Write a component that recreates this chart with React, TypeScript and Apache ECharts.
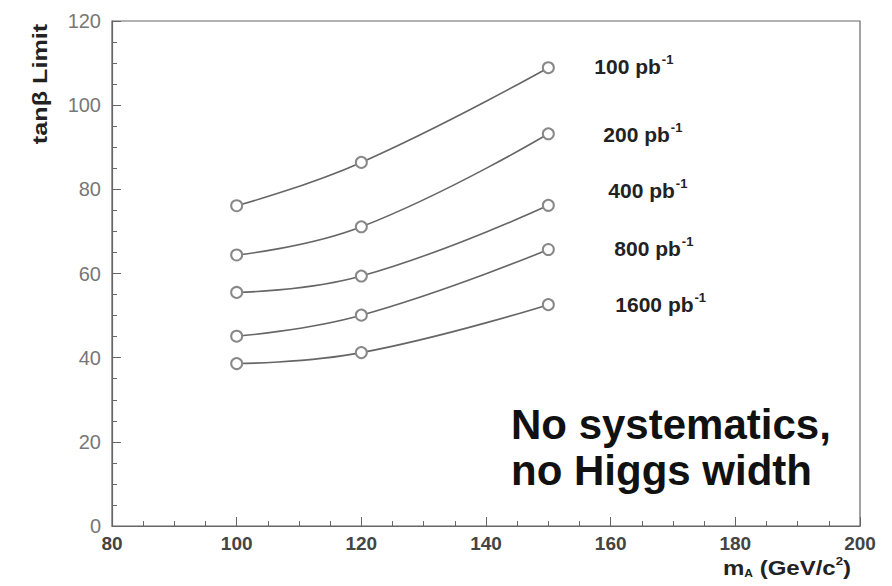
import React, { useEffect, useRef } from "react";
import * as echarts from "echarts";

const massValues = [100, 120, 150];
const lumiLabels = ["100", "200", "400", "800", "1600"];
const limit100 = [76.1, 86.4, 108.9];
const limit200 = [64.4, 71.1, 93.2];
const limit400 = [55.5, 59.4, 76.2];
const limit800 = [45.1, 50.1, 65.7];
const limit1600 = [38.6, 41.2, 52.6];
const seriesValues = [limit100, limit200, limit400, limit800, limit1600];
const labelDistance = [46, 55, 60, 66, 67];
const labelShiftY = [-1, 1, -15, -1, 0];

const FONT = "Liberation Sans, Arial, sans-serif";

export default function App() {
  const ref = useRef<HTMLDivElement>(null);
  useEffect(() => {
    if (!ref.current) return;
    const chart = echarts.init(ref.current, null, { renderer: "svg" });
    const series = seriesValues.map((vals, i) => ({
      type: "line",
      data: vals.map((v, j) => [massValues[j], v]),
      smooth: 0.45,
      symbol: "emptyCircle",
      symbolSize: 11,
      showAllSymbol: true,
      lineStyle: { color: "#666", width: 1.6 },
      itemStyle: { color: "#888", borderColor: "#888", borderWidth: 1.5 },
      endLabel: {
        show: true,
        distance: labelDistance[i],
        offset: [0, labelShiftY[i]],
        formatter: () => `{a|${lumiLabels[i]} pb}{s|-1}`,
        rich: {
          a: { fontSize: 21, fontWeight: "bold", color: "#222", fontFamily: FONT },
          s: { fontSize: 13, fontWeight: "bold", color: "#222", fontFamily: FONT, padding: [0, 0, 14, 1] },
        },
      },
      z: 3,
    }));
    chart.setOption({
      animation: false,
      backgroundColor: "#fff",
      grid: { left: 112, right: 32, top: 21, bottom: 60, show: true, borderColor: "#666", borderWidth: 1.2 },
      xAxis: {
        type: "value",
        min: 80,
        max: 200,
        interval: 20,
        axisLine: { show: true, lineStyle: { color: "#666", width: 1.2 } },
        axisTick: { show: true, inside: true, length: 9, lineStyle: { color: "#666" } },
        minorTick: { show: true, splitNumber: 4, length: 5, lineStyle: { color: "#666" } },
        splitLine: { show: false },
        axisLabel: { fontSize: 19, fontWeight: "bold", color: "#444", margin: 8, fontFamily: FONT },
      },
      yAxis: {
        type: "value",
        min: 0,
        max: 120,
        interval: 20,
        axisLine: { show: true, lineStyle: { color: "#666", width: 1.2 } },
        axisTick: { show: true, inside: true, length: 9, lineStyle: { color: "#666" } },
        minorTick: { show: true, splitNumber: 4, length: 5, lineStyle: { color: "#666" } },
        splitLine: { show: false },
        axisLabel: { fontSize: 20, color: "#777", margin: 11, fontFamily: FONT },
      },
      series,
      graphic: [
        {
          type: "text",
          x: 40,
          y: 84,
          rotation: Math.PI / 2,
          scaleX: 1.2,
          style: {
            text: "tanβ Limit",
            fontSize: 21,
            fontWeight: "bold",
            fill: "#222",
            fontFamily: FONT,
            align: "center",
            verticalAlign: "middle",
          },
        },
        {
          type: "text",
          x: 723,
          y: 556,
          scaleX: 1.2,
          style: {
            text: "{a|m}{s|A}{a| (GeV/c}{p|2}{a|)}",
            rich: {
              a: { fontSize: 20, fontWeight: "bold", fill: "#222", fontFamily: FONT },
              s: { fontSize: 10, fontWeight: "bold", fill: "#222", fontFamily: FONT, padding: [10, 0, 0, 0] },
              p: { fontSize: 11, fontWeight: "bold", fill: "#222", fontFamily: FONT, padding: [0, 0, 13, 0] },
            },
          },
        },
        {
          type: "text",
          x: 511,
          y: 401,
          style: {
            text: "No systematics,\nno Higgs width",
            fontSize: 42,
            lineHeight: 46,
            fontWeight: "bold",
            fill: "#111",
            fontFamily: FONT,
          },
        },
      ],
    });
    return () => chart.dispose();
  }, []);
  return <div ref={ref} style={{ width: 892, height: 586, position: "absolute", left: 0, top: 0 }} />;
}
